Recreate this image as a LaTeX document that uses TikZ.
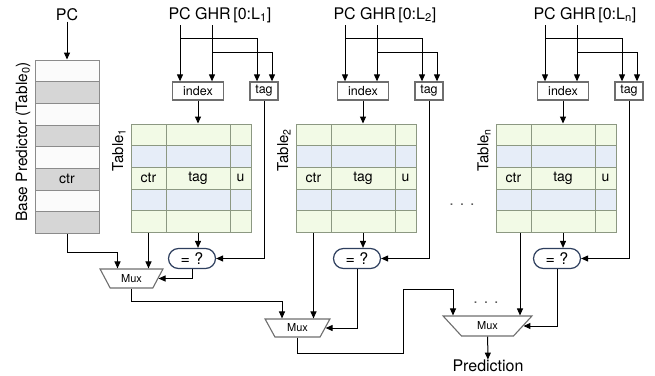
\documentclass[tikz,border=0pt]{standalone}
\usepackage{fontspec}
\setmainfont{TeX Gyre Heros}
\usetikzlibrary{arrows.meta,shapes.geometric}

\definecolor{cellgreen}{HTML}{F2FAE6}
\definecolor{cellblue}{HTML}{E6EDF8}
\definecolor{cellgray}{HTML}{D6D6D6}
\definecolor{cellwhite}{HTML}{FBFBFB}
\definecolor{gridline}{HTML}{8C9882}
\definecolor{boxline}{HTML}{6E6E6E}
\definecolor{cmpline}{HTML}{2E3F5E}

\tikzset{
  cell/.style={draw=gridline, line width=0.9pt, inner sep=0pt, minimum height=21.7pt, font=\fontsize{14}{16}\selectfont},
  regbox/.style={draw=boxline, line width=1.3pt, fill=white, inner sep=0pt, minimum height=18pt, font=\fontsize{12.5}{14}\selectfont},
  cmp/.style={draw=cmpline, line width=1.2pt, fill=white, rounded corners=10pt, inner sep=0pt, minimum width=47pt, minimum height=20pt, font=\fontsize{16}{18}\selectfont},
  mux/.style={trapezium, shape border rotate=180, trapezium stretches=true, draw=boxline, line width=1.1pt, fill=white, inner sep=0pt, font=\fontsize{11}{12}\selectfont},
  hdr/.style={inner sep=0pt, font=\fontsize{16}{18}\selectfont},
  tbl/.style={inner sep=0pt, rotate=90, font=\fontsize{15}{17}\selectfont},
  dots/.style={inner sep=0pt, text=black!65, font=\fontsize{16}{18}\selectfont}
}

\begin{document}
\begin{tikzpicture}[x=1pt, y=-1pt, line width=1pt, >={Triangle[length=7pt,width=6pt]}]
\useasboundingbox (0,0) rectangle (655,375);

% base predictor
\node[hdr] (pc0) at (67,15) {PC};
\foreach \row in {0,...,7}{
  \pgfmathsetmacro\yy{60+10.85+21.7*\row}
  \ifodd\row\relax \def\cc{cellgray}\else \def\cc{cellwhite}\fi
  \ifnum\row=5 \def\lc{ctr}\else \def\lc{}\fi
  \node[cell, draw=boxline!80, fill=\cc, minimum width=64pt] (b\row) at (67,\yy) {\lc};
}
\node[tbl, font=\fontsize{15.5}{17}\selectfont] (lb0) at (23,142) {Base Predictor (Table\textsubscript{0})};
\draw[->] (pc0) -- (b0);

% tagged tables
\foreach \tname/\tx in {1/131,2/296,n/496}{
  \foreach \row in {0,...,4}{
    \pgfmathsetmacro\yy{124+10.85+21.7*\row}
    \ifodd\row\relax \def\cc{cellblue}\else \def\cc{cellgreen}\fi
    \ifnum\row=2 \def\lc{ctr}\def\lg{tag}\def\lu{u}\else \def\lc{}\def\lg{}\def\lu{}\fi
    \node[cell, fill=\cc, minimum width=35pt] (c\tname\row) at (\tx+17.5,\yy) {\lc};
    \node[cell, fill=\cc, minimum width=64pt] (g\tname\row) at (\tx+67,\yy) {\lg};
    \node[cell, fill=\cc, minimum width=21pt] (u\tname\row) at (\tx+109.5,\yy) {\lu};
  }
  \node[tbl] (lb\tname) at (\tx-12,150) {Table\textsubscript{\tname}};
  \node[hdr, anchor=west] (hd\tname) at (\tx+37,15) {PC GHR\,[0:L\textsubscript{\tname}]};
  \coordinate (pc\tname) at (\tx+49,25);
  \coordinate (gh\tname) at (\tx+81,25);
  \node[regbox, minimum width=51pt] (idx\tname) at (\tx+67,91) {index};
  \node[regbox, minimum width=28pt] (tag\tname) at (\tx+133,91) {tag};
  \node[cmp] (eq\tname) at (\tx+61,258.5) {= ?};

  \draw[->] (pc\tname) -- (pc\tname |- idx\tname.north);
  \draw[->] (pc\tname) ++(0,13) -| ([xshift=-7pt]tag\tname.north);
  \draw[->] (gh\tname) -- (gh\tname |- idx\tname.north);
  \draw[->] (gh\tname) ++(0,27) -| ([xshift=8pt]tag\tname.north);
  \draw[->] (idx\tname) -- (idx\tname |- g\tname0.north);
  \draw[->] (g\tname4) -- (g\tname4 |- eq\tname.north);
  \draw[->] (tag\tname) |- (eq\tname);
}

% multiplexers
\node[mux, minimum width=63pt, minimum height=19pt, trapezium angle=59] (mux1) at (131.5,278.5) {Mux};
\node[mux, minimum width=65pt, minimum height=18pt, trapezium angle=61] (mux2) at (297.5,328) {Mux};
\node[mux, minimum width=89pt, minimum height=20pt, trapezium angle=48] (mux3) at (487.5,326) {Mux};
\node[hdr] (pred) at (488,366) {Prediction};
\node[dots] (d1) at (462,205) {. . .};
\node[dots] (d2) at (486,303) {. . .};
\coordinate (jog) at (403,289);

\draw[->] (b7.south) -- ++(0,18) -| ([xshift=-14pt]mux1.north);
\draw[->] (c14) -- (c14 |- mux1.north);
\draw[->] (eq1) |- (mux1);
\draw[->] (mux1.south) -- ++(0,13) -| ([xshift=-15.5pt]mux2.north);
\draw[->] (c24) -- (c24 |- mux2.north);
\draw[->] (eq2) |- (mux2);
\draw[->] (mux2.south) -- ++(0,16) -| (jog) -| ([xshift=-34.5pt]mux3.north);
\draw[->] ([xshift=6.5pt]cn4.south) -- ([xshift=6.5pt]cn4.south |- mux3.north);
\draw[->] (eqn) |- (mux3);
\draw[->] (mux3) -- (pred);
\end{tikzpicture}
\end{document}
